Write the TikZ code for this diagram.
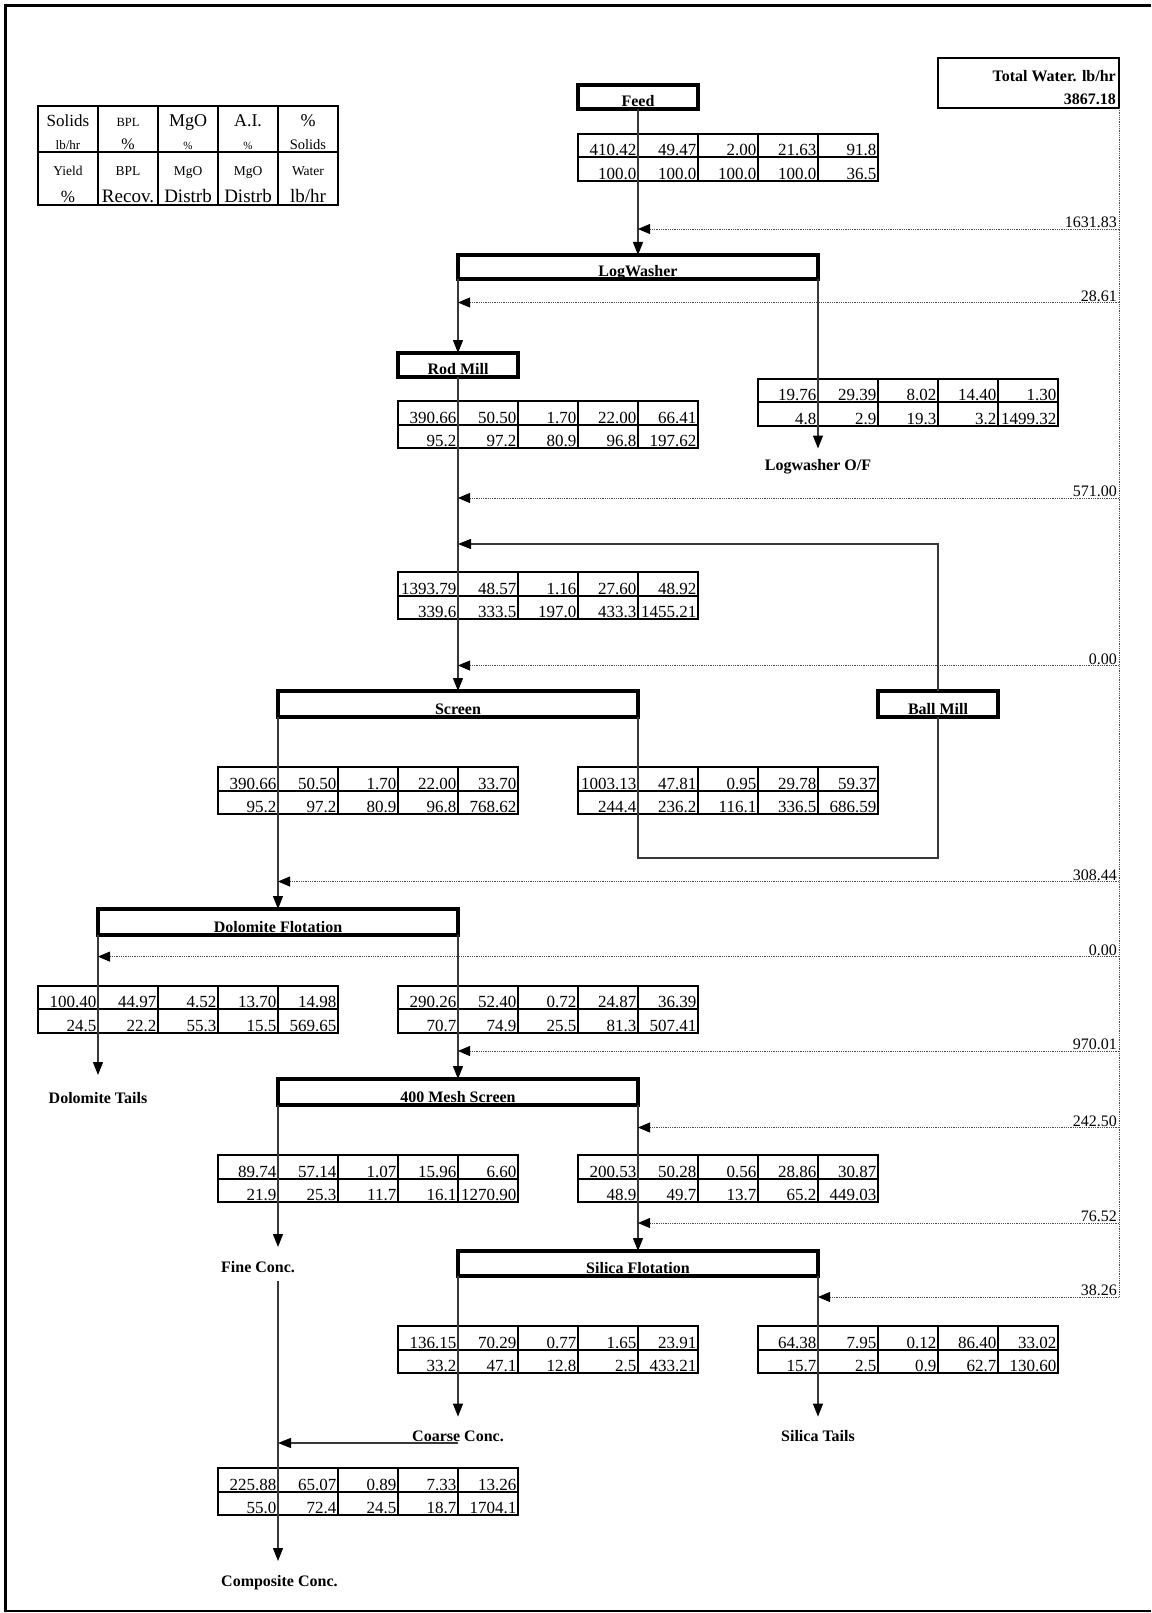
\documentclass[tikz,border=0pt]{standalone}
\usepackage{fontspec}
\setmainfont{Liberation Serif}
\usetikzlibrary{arrows.meta}
\newcommand\fsz[1]{\fontsize{#1}{#1}\selectfont}
\tikzset{
  x=1pt, y=-1pt,
  pbox/.style={draw, line width=3.2pt, inner sep=0pt, outer sep=0pt, anchor=north west,
    font=\fsz{16}\bfseries, text depth=2.5pt},
  tabbox/.style={draw, line width=2pt, minimum width=300pt, minimum height=47pt,
    inner sep=0pt, outer sep=0pt, anchor=north west},
  tabline/.style={line width=2pt},
  num/.style={anchor=base east, inner sep=0pt, font=\fsz{17}},
  wlab/.style={anchor=base east, inner sep=0pt, font=\fsz{16}},
  olab/.style={anchor=base, inner sep=0pt, font=\fsz{16}\bfseries},
  flow/.style={line width=1.3pt, black!78},
  flowar/.style={flow, -{Triangle[width=10pt,length=13pt,black]}},
  water/.style={line width=0.8pt, black!70, densely dotted},
  waterar/.style={water, -{Triangle[width=10pt,length=12pt,black]}},
}
\newcommand\dtab[5]{%
  \node[tabbox] (#1) at (#2,#3) {};
  \draw[tabline] (#2,#3+23.5) -- (#2+300,#3+23.5);
  \foreach \i in {1,2,3,4} {\draw[tabline] (#2+60*\i,#3) -- (#2+60*\i,#3+47);}
  \foreach \v [count=\i] in {#4} {\node[num] (#1a\i) at (#2+60*\i-1.5,#3+22) {\v};}
  \foreach \v [count=\i] in {#5} {\node[num] (#1b\i) at (#2+60*\i-1.5,#3+45.5) {\v};}
}
\newcommand\lgt[5]{\node[anchor=base, inner sep=0pt, font=\fsz{#4}] (#1) at (#2,#3) {#5};}
\begin{document}
\begin{tikzpicture}
\useasboundingbox (0,0) rectangle (1151,1613);
% frame
\draw[line width=2.7pt] (1151,5.3) -- (5.3,5.3) -- (5.3,1611) -- (1151,1611);

% legend
\node[tabbox, minimum height=99pt] (legend) at (38,106) {};
\draw[tabline] (38,152) -- (338,152);
\foreach \i in {1,2,3,4} {\draw[tabline] (38+60*\i,106) -- (38+60*\i,205);}
\lgt{l11}{68}{127}{17}{Solids} \lgt{l12}{68}{150}{13}{lb/hr}
\lgt{l13}{68}{176}{13.5}{Yield} \lgt{l14}{68}{203}{17}{\%}
\lgt{l21}{128}{127}{12.5}{BPL} \lgt{l22}{128}{150}{16}{\%}
\lgt{l23}{128}{176}{13.5}{BPL} \lgt{l24}{128}{203}{19}{Recov.}
\lgt{l31}{188}{127}{18}{MgO} \lgt{l32}{188}{150}{11}{\%}
\lgt{l33}{188}{176}{13.5}{MgO} \lgt{l34}{188}{203}{19}{Distrb}
\lgt{l41}{248}{127}{18}{A.I.} \lgt{l42}{248}{150}{11}{\%}
\lgt{l43}{248}{176}{13.5}{MgO} \lgt{l44}{248}{203}{19}{Distrb}
\lgt{l51}{308}{127}{18}{\%} \lgt{l52}{308}{150}{14.5}{Solids}
\lgt{l53}{308}{176}{13.5}{Water} \lgt{l54}{308}{203}{19}{lb/hr}

% total water
\node[draw, line width=2pt, minimum width=181pt, minimum height=50pt, inner sep=0pt,
  outer sep=0pt, anchor=north west] (tw) at (938,58) {};
\node[anchor=base east, inner sep=0pt, font=\fsz{16}\bfseries] (twa) at (1116,82) {Total Water. lb/hr};
\node[anchor=base east, inner sep=0pt, font=\fsz{16}\bfseries] (twb) at (1116,105) {3867.18};

% process boxes
\node[pbox, minimum width=120pt, minimum height=24pt, text height=21.5pt] (feed) at (578,85) {Feed};
\node[pbox, minimum width=360pt, minimum height=24pt, text height=21.5pt] (lw) at (458,255) {LogWasher};
\node[pbox, minimum width=120pt, minimum height=24pt, text height=21.5pt] (rod) at (398,353) {Rod Mill};
\node[pbox, minimum width=360pt, minimum height=26pt, text height=23.5pt] (screen) at (278,691) {Screen};
\node[pbox, minimum width=120pt, minimum height=26pt, text height=23.5pt] (ball) at (878,691) {Ball Mill};
\node[pbox, minimum width=360pt, minimum height=26pt, text height=23.5pt] (dol) at (98,909) {Dolomite Flotation};
\node[pbox, minimum width=360pt, minimum height=26pt, text height=23.5pt] (mesh) at (278,1079) {400 Mesh Screen};
\node[pbox, minimum width=360pt, minimum height=25pt, text height=22.5pt] (sil) at (458,1251) {Silica Flotation};

% data tables
\dtab{feedtab}{578}{134}{410.42,49.47,2.00,21.63,91.8}{100.0,100.0,100.0,100.0,36.5}
\dtab{oftab}{758}{378.5}{19.76,29.39,8.02,14.40,1.30}{4.8,2.9,19.3,3.2,1499.32}
\dtab{rodtab}{398}{401}{390.66,50.50,1.70,22.00,66.41}{95.2,97.2,80.9,96.8,197.62}
\dtab{milltab}{398}{572}{1393.79,48.57,1.16,27.60,48.92}{339.6,333.5,197.0,433.3,1455.21}
\dtab{scrutab}{218}{767}{390.66,50.50,1.70,22.00,33.70}{95.2,97.2,80.9,96.8,768.62}
\dtab{scrotab}{578}{767}{1003.13,47.81,0.95,29.78,59.37}{244.4,236.2,116.1,336.5,686.59}
\dtab{dtttab}{38}{985.5}{100.40,44.97,4.52,13.70,14.98}{24.5,22.2,55.3,15.5,569.65}
\dtab{dcttab}{398}{985.5}{290.26,52.40,0.72,24.87,36.39}{70.7,74.9,25.5,81.3,507.41}
\dtab{fcttab}{218}{1155}{89.74,57.14,1.07,15.96,6.60}{21.9,25.3,11.7,16.1,1270.90}
\dtab{mottab}{578}{1155}{200.53,50.28,0.56,28.86,30.87}{48.9,49.7,13.7,65.2,449.03}
\dtab{ccttab}{398}{1326}{136.15,70.29,0.77,1.65,23.91}{33.2,47.1,12.8,2.5,433.21}
\dtab{stttab}{758}{1326}{64.38,7.95,0.12,86.40,33.02}{15.7,2.5,0.9,62.7,130.60}
\dtab{cpttab}{218}{1468}{225.88,65.07,0.89,7.33,13.26}{55.0,72.4,24.5,18.7,1704.1}

% product labels
\node[olab] (oflab) at (818,470.5) {Logwasher O/F};
\node[olab] (dtlab) at (98,1103) {Dolomite Tails};
\node[olab, anchor=base west] (fclab) at (221,1272.5) {Fine Conc.};
\node[olab] (cclab) at (458,1441) {Coarse Conc.};
\node[olab] (stlab) at (818,1441) {Silica Tails};
\node[olab, anchor=base west] (cplab) at (221,1586) {Composite Conc.};

% free ends
\coordinate (oftip) at (818,448.5);
\coordinate (rec) at (458,544);
\coordinate (ovr) at (638,858);
\coordinate (dttip) at (98,1075);
\coordinate (fctip) at (278,1247);
\coordinate (fcgo) at (278,1281);
\coordinate (cptip) at (278,1561);
\coordinate (cctip) at (458,1416.6);
\coordinate (sttip) at (818,1416.6);
\coordinate (ccgo) at (458,1443);

% flow connectors
\draw[flowar] (feed.south) -- (lw.north);
\draw[flowar] (lw.south west) -- (rod.north);
\draw[flowar] (lw.south east) -- (oftip);
\draw[flowar] (rod.south) -- (screen.north);
\draw[flowar] (ball.north) |- (rec);
\draw[flow] (screen.south east) -- (ovr) -| (ball.south);
\draw[flowar] (screen.south west) -- (dol.north);
\draw[flowar] (dol.south west) -- (dttip);
\draw[flowar] (dol.south east) -- (mesh.north);
\draw[flowar] (mesh.south west) -- (fctip);
\draw[flowar] (mesh.south east) -- (sil.north);
\draw[flowar] (fcgo) -- (cptip);
\draw[flowar] (sil.south west) -- (cctip);
\draw[flowar] (sil.south east) -- (sttip);
\draw[flowar] (ccgo) -- (fcgo |- ccgo);

% water additions
\coordinate (w1) at (1119,229);
\coordinate (w2) at (1119,302.5);
\coordinate (w3) at (1119,498);
\coordinate (w4) at (1119,665.5);
\coordinate (w5) at (1119,881.5);
\coordinate (w6) at (1119,956.6);
\coordinate (w7) at (1119,1051);
\coordinate (w8) at (1119,1127.5);
\coordinate (w9) at (1119,1223);
\coordinate (w10) at (1119,1297);
\draw[water] (tw.south east) -- (w10);
\draw[waterar] (w1) -- (feed.south |- w1);
\draw[waterar] (w2) -- (lw.south west |- w2);
\draw[waterar] (w3) -- (rod.south |- w3);
\draw[waterar] (w4) -- (rod.south |- w4);
\draw[waterar] (w5) -- (screen.south west |- w5);
\draw[waterar] (w6) -- (dol.south west |- w6);
\draw[waterar] (w7) -- (dol.south east |- w7);
\draw[waterar] (w8) -- (mesh.south east |- w8);
\draw[waterar] (w9) -- (mesh.south east |- w9);
\draw[waterar] (w10) -- (sil.south east |- w10);
\node[wlab] (w1l) at (1117,227.5) {1631.83};
\node[wlab] (w2l) at (1117,301) {28.61};
\node[wlab] (w3l) at (1117,496.5) {571.00};
\node[wlab] (w4l) at (1117,664) {0.00};
\node[wlab] (w5l) at (1117,880) {308.44};
\node[wlab] (w6l) at (1117,955) {0.00};
\node[wlab] (w7l) at (1117,1049.5) {970.01};
\node[wlab] (w8l) at (1117,1126) {242.50};
\node[wlab] (w9l) at (1117,1221.5) {76.52};
\node[wlab] (w10l) at (1117,1295.5) {38.26};
\end{tikzpicture}
\end{document}
